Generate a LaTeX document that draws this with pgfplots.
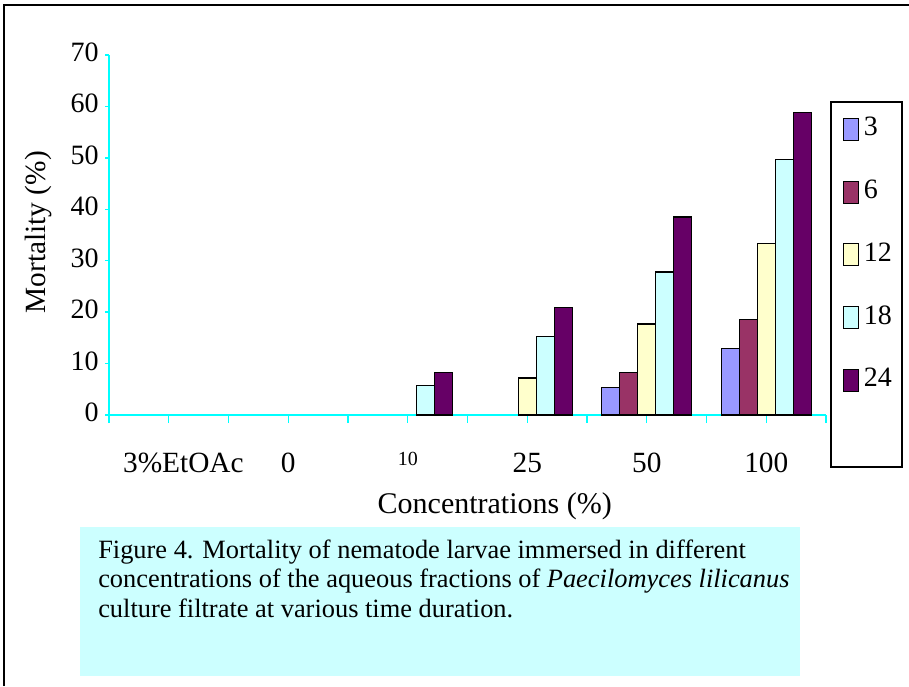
\documentclass[border=0pt]{standalone}
\usepackage{fontspec}
\setmainfont{Liberation Serif}
\usepackage{pgfplots}
\pgfplotsset{compat=1.18}
\definecolor{c3}{HTML}{9999FF}
\definecolor{c6}{HTML}{993366}
\definecolor{c12}{HTML}{FFFFCC}
\definecolor{c18}{HTML}{CCFFFF}
\definecolor{c24}{HTML}{660066}
\definecolor{axcyan}{HTML}{00FFFF}
\definecolor{capbg}{HTML}{CCFFFF}
\begin{document}
\begin{tikzpicture}[x=0.75pt,y=0.75pt]
\path[use as bounding box] (0,0) rectangle (909,686);
\draw[black, line width=1.5pt] (4,0) -- (4,681) -- (909,681);
\fill[capbg] (80,10) rectangle (800,159);
\node[anchor=base west, align=left, inner sep=0pt, font=\fontsize{19.8}{22.1}\selectfont] at (98,69)
  {Figure 4. Mortality of nematode larvae immersed in different\\
   concentrations of the aqueous fractions of \textit{Paecilomyces lilicanus}\\
   culture filtrate at various time duration.};
\draw[black, line width=1pt] (831,219) rectangle (902,584);
\coordinate (O) at (109,271);
\begin{axis}[
  at={(O)}, anchor=south west,
  scale only axis, width=537.75pt, height=270pt,
  xmin=0, xmax=6, ymin=0, ymax=70,
  clip=false,
  axis x line=bottom, axis y line=left,
  axis line style={-, axcyan, line width=1.1pt},
  tick align=outside,
  ytick={0,10,...,70},
  ytick style={axcyan, line width=1.1pt, /pgfplots/major tick length=3pt},
  yticklabel style={yshift=2pt},
  xtick={0,1,...,6}, xticklabels={},
  xtick style={axcyan, line width=1.1pt, /pgfplots/major tick length=6pt},
  extra x ticks={0.5,1.5,2.5,3.5,4.5,5.5},
  extra x tick labels={{\hspace*{22pt}3\%EtOAc},0,{\fontsize{15}{15}\selectfont\raisebox{5pt}{10}},25,50,100},
  extra x tick style={/pgfplots/major tick length=0pt, xticklabel style={anchor=base, yshift=-43pt, font=\fontsize{22}{22}\selectfont}},
  ticklabel style={font=\fontsize{21}{21}\selectfont},
  /pgf/number format/assume math mode=true,
  ylabel={Mortality (\%)},
  ylabel style={at={(axis description cs:-0.099,0.508)}, anchor=center, font=\fontsize{22}{22}\selectfont},
  xlabel={Concentrations (\%)},
  xlabel style={at={(axis description cs:0.538,-0.253)}, anchor=center, font=\fontsize{22.5}{22.5}\selectfont},
  ybar=0pt, bar width=13.5pt,
  legend image code/.code={\draw[#1, draw=black, line width=0.7pt] (0pt,-9.5pt) rectangle (11.25pt,7pt);},
  legend style={at={(axis description cs:1.0237,0.835)}, anchor=north west, draw=none, fill=none,
    inner sep=0pt, row sep=27.5pt, font=\fontsize{21}{21}\selectfont,
    nodes={inner xsep=3.5pt}},
  legend cell align=left,
  every axis plot/.append style={draw=black, line width=0.8pt},
]
\addplot[fill=c3] coordinates {(4.5,5.4) (5.5,13.0)};
\addplot[fill=c6] coordinates {(4.5,8.2) (5.5,18.6)};
\addplot[fill=c12] coordinates {(3.5,7.2) (4.5,17.7) (5.5,33.4)};
\addplot[fill=c18] coordinates {(2.5,5.7) (3.5,15.3) (4.5,27.8) (5.5,49.6)};
\addplot[fill=c24] coordinates {(2.5,8.2) (3.5,20.9) (4.5,38.5) (5.5,58.8)};
\legend{3,6,12,18,24}
\end{axis}
\end{tikzpicture}
\end{document}
